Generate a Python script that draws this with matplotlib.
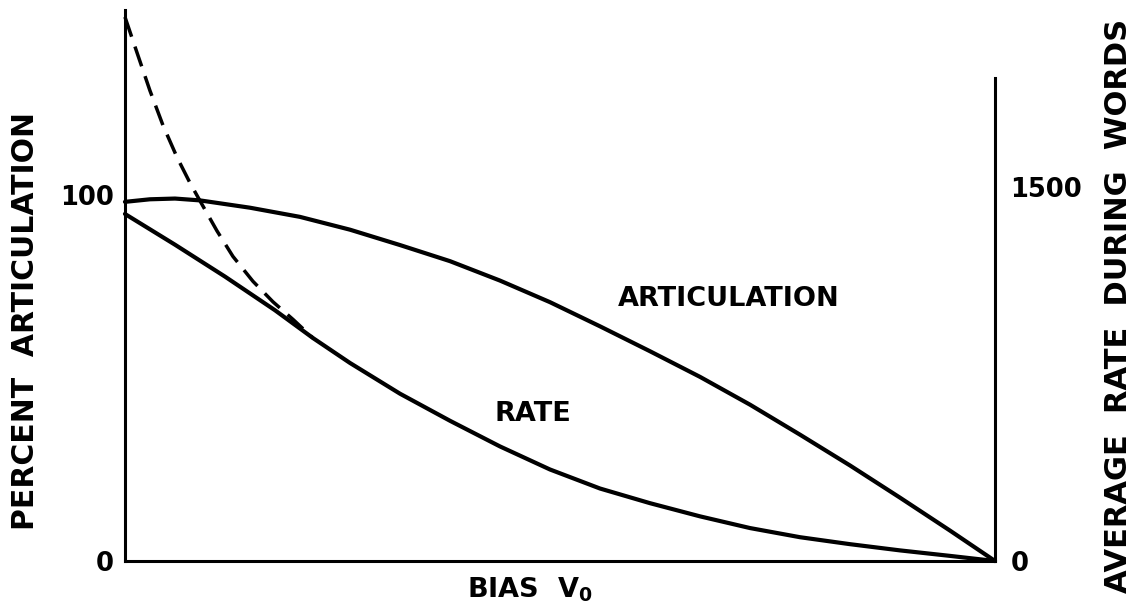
import matplotlib
matplotlib.use("Agg")
import matplotlib.pyplot as plt

# values (bias in arbitrary units 0..10, left axis in percent)
art_x = [0, 0.287, 0.575, 0.862, 1.437, 2.011, 2.586, 3.161, 3.736, 4.310, 4.885,
         5.460, 6.034, 6.609, 7.184, 7.759, 8.333, 8.908, 9.483, 10]
art_y = [98.1, 98.8, 99.0, 98.5, 96.5, 94.0, 90.5, 86.3, 81.9, 76.6, 70.7,
         64.1, 57.3, 50.3, 42.7, 34.5, 26.1, 17.3, 8.3, 0]

# rate curve, drawn on the percent scale (1500 on the right = 100 on the left)
rate_x = [0, 0.575, 1.149, 1.724, 2.161, 2.586, 3.161, 3.736, 4.310, 4.885,
          5.460, 6.034, 6.609, 7.184, 7.759, 8.333, 8.908, 9.483, 10]
rate_y = [94.8, 86.4, 77.7, 68.5, 60.9, 54.1, 45.7, 38.3, 31.3, 25.0,
          19.8, 15.8, 12.2, 9.0, 6.5, 4.6, 2.9, 1.4, 0]

# dashed extension of the rate curve near zero bias
dash_x = [0, 0.138, 0.287, 0.437, 0.598, 0.747, 0.862, 1.057, 1.241, 1.471, 1.701, 1.931, 2.161]
dash_y = [148.6, 138.9, 128.5, 119.0, 110.3, 103.3, 98.4, 90.2, 83.2, 76.4, 70.8, 66.0, 60.9]

left_ticks = [0, 100]
right_ticks = [0, 1500]

plt.rcParams['font.family'] = ['DejaVu Sans']

fig = plt.figure(figsize=(11.39, 6.14), dpi=100)
ax = fig.add_axes([0.1097, 0.0863, 0.7639, 0.8974])

ax.plot(art_x, art_y, color="black", lw=3, solid_capstyle="round", solid_joinstyle="round", clip_on=False)
ax.plot(rate_x, rate_y, color="black", lw=3, solid_capstyle="round", solid_joinstyle="round", clip_on=False)
ax.plot(dash_x, dash_y, color="black", lw=2.5, dashes=(6, 3), clip_on=False)

ax.set_xlim(0, 10)
ax.set_ylim(0, 150.5)
ax.set_xticks([])
ax.set_yticks(left_ticks)
ax.set_yticklabels(["0", "100"])
ax.tick_params(axis='y', length=0, pad=8, labelsize=18.5)
for lab in ax.get_yticklabels():
    lab.set_fontweight("bold")

for s in ["top", "right"]:
    ax.spines[s].set_visible(False)
for s in ["left", "bottom"]:
    ax.spines[s].set_linewidth(2.2)

ax2 = ax.twinx()
ax2.set_ylim(0, 2210)
ax2.set_yticks(right_ticks)
ax2.set_yticklabels(["0", "1500"])
ax2.tick_params(axis='y', length=0, pad=11, labelsize=18.5)
for lab in ax2.get_yticklabels():
    lab.set_fontweight("bold")
for s in ["top", "left", "bottom"]:
    ax2.spines[s].set_visible(False)
ax2.spines["right"].set_linewidth(2.2)
ax2.spines["right"].set_bounds(0, 1937)

# curve labels
ax.text(5.66, 71.5, "ARTICULATION", fontsize=19.5, fontweight="bold", ha="left", va="center")
ax.text(4.25, 40.2, "RATE", fontsize=19.5, fontweight="bold", ha="left", va="center")

# axis titles
fig.text(0.0228, 0.477, "PERCENT  ARTICULATION", rotation=90, fontsize=21.5, fontweight="bold",
         ha="center", va="center")
fig.text(0.9816, 0.5016, "AVERAGE  RATE  DURING  WORDS", rotation=90, fontsize=22, fontweight="bold",
         ha="center", va="center")
fig.text(0.465, 0.039, r"BIAS  V$_\mathbf{0}$", fontsize=19.5, fontweight="bold", ha="center", va="center")

fig.savefig("out.png", dpi=100)
